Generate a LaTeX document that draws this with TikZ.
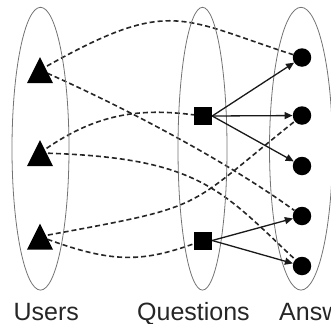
\documentclass[tikz,border=0pt]{standalone}
\usepackage{fontspec}
\setmainfont{Liberation Sans}
\usetikzlibrary{arrows.meta}
\pgfdeclarelayer{links}
\pgfsetlayers{links,main}
\begin{document}
\begin{tikzpicture}[x=1bp,y=-1bp,
  group/.style={draw=black!55,line width=0.8bp},
  user/.style={rectangle,minimum width=26bp,minimum height=26bp,inner sep=0pt,
    path picture={\fill[black] (path picture bounding box.south west)
      -- (path picture bounding box.south east)
      -- (path picture bounding box.north) -- cycle;}},
  question/.style={rectangle,minimum size=18bp,inner sep=0pt,fill=black},
  answer/.style={circle,minimum size=18.5bp,inner sep=0pt,fill=black},
  relation/.style={draw=black!85,line width=1.6bp,dash pattern=on 5bp off 3bp},
  answers/.style={draw=black!90,line width=1.3bp,-{Triangle[length=8bp,width=7bp]}},
  caption/.style={anchor=base west,inner sep=0pt,text=black!85,
    font=\fontsize{25bp}{30bp}\selectfont}]
\useasboundingbox (0,0) rectangle (331,324);

% grouping ellipses
\draw[group] (40.5,148.7) ellipse [x radius=28.5,y radius=141.4];
\draw[group] (202.5,148.7) ellipse [x radius=24.5,y radius=141.4];
\draw[group] (301,148.7) ellipse [x radius=31.5,y radius=141.4];

% users (triangles)
\node[user] (t1) at (40,70) {};
\node[user] (t2) at (40,153) {};
\node[user] (t3) at (40,236.5) {};

% questions (squares)
\node[question] (s1) at (203,116) {};
\node[question] (s2) at (203,240.5) {};

% answers (discs)
\node[answer] (c1) at (302,57.5) {};
\node[answer] (c2) at (302,115.5) {};
\node[answer] (c3) at (302,166) {};
\node[answer] (c4) at (302,216) {};
\node[answer] (c5) at (302,266) {};

% user relations, started under the triangles
\begin{pgfonlayer}{links}
\draw[relation] (t1.center) .. controls (170,-4) and (179,18) .. (c1);
\draw[relation] (t1.center) .. controls (120,105) and (225,160) .. (c4);
\draw[relation] (t2.center) .. controls (95,113) and (140,108) .. (s1);
\draw[relation] (t2.center) .. controls (199,157) and (220,189) .. (c5);
\draw[relation] (t3.center) .. controls (110,263) and (140,263) .. (s2);
\draw[relation] (t3.center) .. controls (211,205) and (181,212) .. (c2);
\end{pgfonlayer}

% question-answer arrows
\draw[answers] (s1.east) -- (c1);
\draw[answers] (s1.east) -- (c2);
\draw[answers] (s1.east) -- (c3);
\draw[answers] (s2.east) -- (c4);
\draw[answers] (s2.east) -- (c5);

% captions
\node[caption] (lu) at (13.5,320) {Users};
\node[caption] (lq) at (137,320) {Questions};
\node[caption] (la) at (279,320) {Answers};
\end{tikzpicture}
\end{document}
